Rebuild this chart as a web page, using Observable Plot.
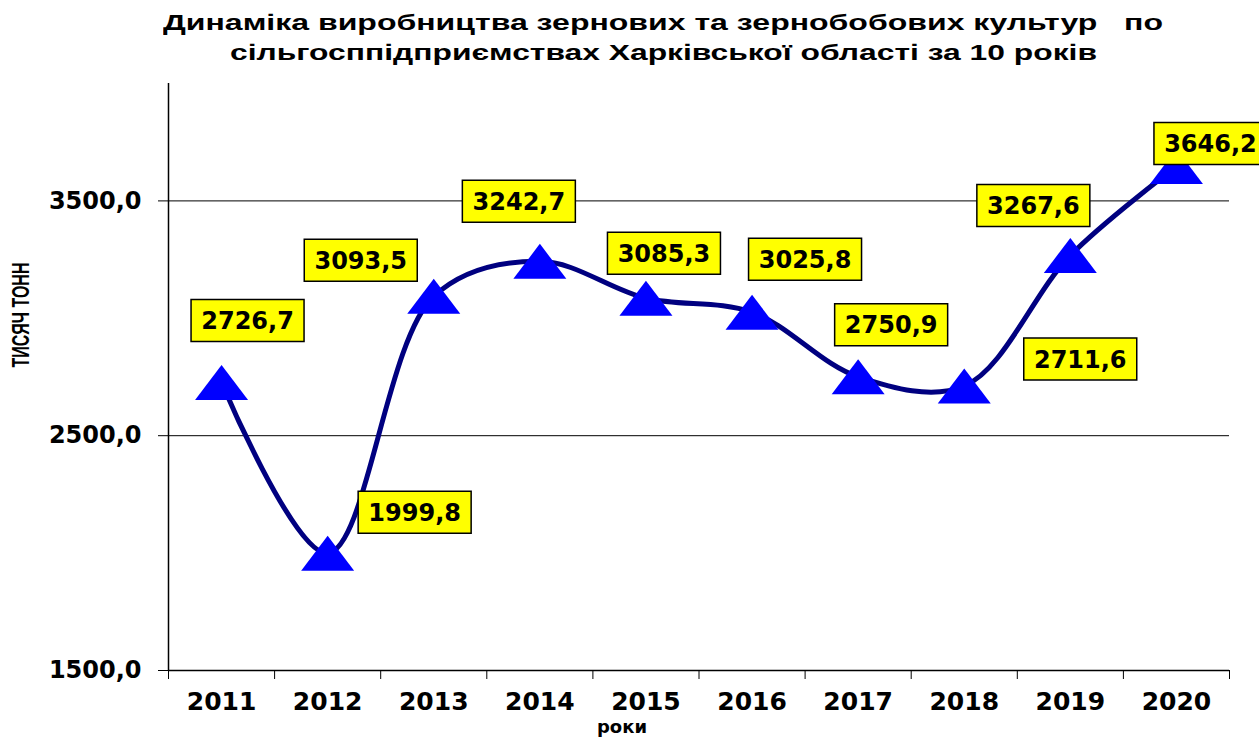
<!DOCTYPE html>
<html>
<head>
<meta charset="utf-8">
<script src="https://cdn.jsdelivr.net/npm/d3@7"></script>
<script src="https://cdn.jsdelivr.net/npm/@observablehq/plot@0.6"></script>
<style>
  html, body { margin: 0; padding: 0; background: #fff; }
  body { width: 1259px; height: 737px; overflow: hidden; position: relative; font-family: "Liberation Sans", Arial, sans-serif; }
  #title { position: relative; height: 80px; }
  #title .line { position: absolute; top: 0; left: 0; white-space: pre; font-weight: bold; font-size: 22px; color: #000; transform-origin: 0 0; line-height: 1; }
  #ylabel { position: absolute; white-space: pre; font-weight: bold; font-size: 16px; line-height: 1; color: #000; font-family: "Liberation Sans", Arial, sans-serif; }
  #xlabel { position: absolute; white-space: pre; font-weight: bold; font-size: 18px; line-height: 1; color: #000; font-family: "DejaVu Sans", sans-serif; }
  #chart svg { display: block; }
</style>
</head>
<body>
<div id="title"></div>
<div id="chart"></div>
<div id="ylabel"></div>
<div id="xlabel"></div>
<script>
// ---- data ----
const titleLines = ["Динаміка виробництва зернових та зернобобових культур   по", "сільгосппідприємствах Харківської області за 10 років"];
const yAxisLabel = "ТИСЯЧ ТОНН";
const xAxisLabel = "роки";
const years = [2011, 2012, 2013, 2014, 2015, 2016, 2017, 2018, 2019, 2020];
const values = [2726.7, 1999.8, 3093.5, 3242.7, 3085.3, 3025.8, 2750.9, 2711.6, 3267.6, 3646.2];
const yTicks = [1500, 2500, 3500];
const yDomain = [1500, 4000];

// ---- layout (pixel offsets of the value boxes from their markers) ----
const labelOffsets = [[26, -62], [87, -41], [-73, -36], [-21, -60], [18, -45], [53, -53], [33, -52], [116, -27], [-37, -50], [34, -23]];

const data = years.map((year, i) => ({year, value: values[i]}));
const fmt = v => v.toFixed(1).replace(".", ",");
const boundaries = years.map(y => y - 0.5).concat([years[years.length - 1] + 0.5]);

// title
const titleEl = document.getElementById("title");
const titleLayout = [{left: 163, top: 12, width: 1000}, {left: 230, top: 42, width: 867}];
titleLines.forEach((t, i) => {
  const s = document.createElement("div");
  s.className = "line";
  s.textContent = t;
  titleEl.appendChild(s);
  const w = s.getBoundingClientRect().width;
  s.style.left = titleLayout[i].left + "px";
  s.style.top = titleLayout[i].top + "px";
  s.style.transform = `scaleX(${titleLayout[i].width / w})`;
});

// symbols
const wideTriangle = {
  draw(ctx, size) {
    const r = Math.sqrt(size / Math.PI);
    const h = r * 0.66;
    ctx.moveTo(0, -h);
    ctx.lineTo(r, h);
    ctx.lineTo(-r, h);
    ctx.closePath();
  }
};
const boxSymbol = {
  draw(ctx) {
    ctx.rect(-56.5, -21, 113, 42);
  }
};

const labelMarks = data.flatMap((d, i) => [
  Plot.dot([d], {x: "year", y: "value", dx: labelOffsets[i][0], dy: labelOffsets[i][1], symbol: boxSymbol, r: 1, fill: "#ffff00", stroke: "#000", strokeWidth: 1.5}),
  Plot.text([d], {x: "year", y: "value", dx: labelOffsets[i][0], dy: labelOffsets[i][1] + 1, text: e => fmt(e.value), fontSize: 24, fontWeight: "bold", fontFamily: "DejaVu Sans", fill: "#000"})
]);

const chart = Plot.plot({
  width: 1259,
  height: 657,
  marginTop: 3,
  marginBottom: 67,
  marginLeft: 168,
  marginRight: 30,
  style: {fontFamily: "DejaVu Sans", fontWeight: "bold", fontSize: "24px", color: "#000", background: "#fff"},
  x: {type: "linear", domain: [boundaries[0], boundaries[boundaries.length - 1]], ticks: boundaries, tickFormat: () => "", tickSize: 9, label: null},
  y: {domain: yDomain, ticks: yTicks, tickSize: 10, tickPadding: 17, tickFormat: fmt, label: null},
  marks: [
    Plot.ruleY(yTicks.filter(v => v !== yDomain[0]), {stroke: "#000", strokeWidth: 1}),
    Plot.ruleY([yDomain[0]], {stroke: "#000", strokeWidth: 1.5}),
    Plot.ruleX([boundaries[0]], {stroke: "#000", strokeWidth: 1.5}),
    Plot.text(years, {x: d => d, y: yDomain[0], dy: 31, text: d => String(d), fontSize: 25, fontWeight: "bold", fontFamily: "DejaVu Sans", fill: "#000"}),
    Plot.line(data, {x: "year", y: "value", curve: "catmull-rom", stroke: "#000080", strokeWidth: 5}),
    Plot.dot(data, {x: "year", y: "value", symbol: wideTriangle, r: 26.5, fill: "#0000ff", stroke: "none"}),
    ...labelMarks
  ]
});
document.getElementById("chart").appendChild(chart);

// axis titles
const yl = document.getElementById("ylabel");
yl.textContent = yAxisLabel;
yl.style.left = "22px";
yl.style.top = "315px";
yl.style.transform = "translate(-50%, -50%) rotate(-90deg) scaleY(1.45)";
const xl = document.getElementById("xlabel");
xl.textContent = xAxisLabel;
xl.style.left = "622px";
xl.style.top = "718px";
xl.style.transform = "translateX(-50%)";
</script>
</body>
</html>
